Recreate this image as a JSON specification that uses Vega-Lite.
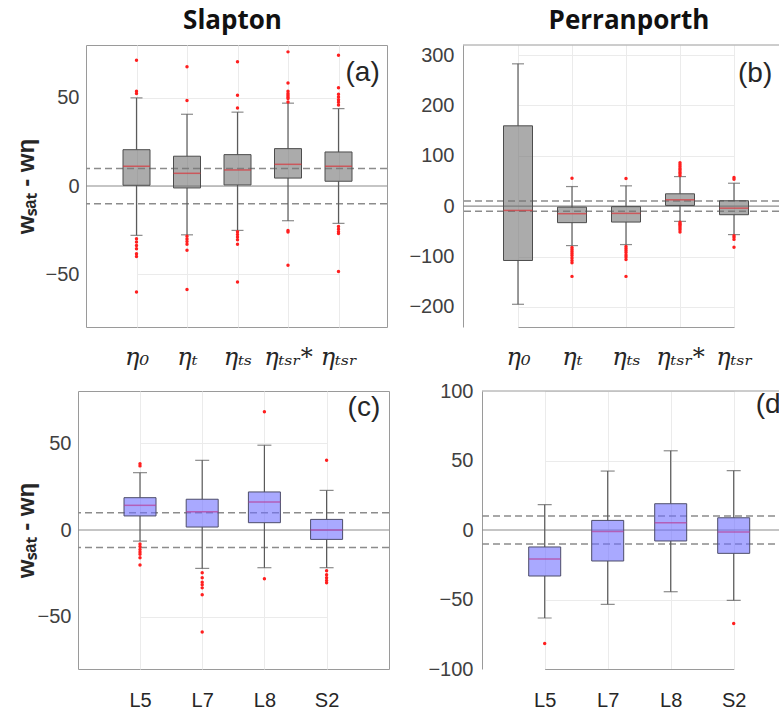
{
  "$schema": "https://vega.github.io/schema/vega-lite/v6.json",
  "padding": {"left": 12, "top": 7, "right": 0, "bottom": 0},
  "config": {
    "view": {"stroke": "#9a9a9a", "strokeWidth": 1},
    "axis": {"labelFont": "Liberation Sans", "labelFontSize": 20, "labelColor": "#404040", "gridColor": "#ebebeb", "domain": false, "ticks": false, "labelPadding": 8},
    "title": {"font": "Open Sans", "fontSize": 26, "fontWeight": "bold", "color": "#111111", "baseline": "alphabetic", "offset": 11}
  },
  "datasets": {
    "box_a": [
      {"cat": "η₀", "lo": -28, "q1": 0.4, "med": 11.2, "q3": 20.6, "hi": 50},
      {"cat": "ηₜ", "lo": -27.7, "q1": -1.1, "med": 7.2, "q3": 16.9, "hi": 40.7},
      {"cat": "ηₜₛ", "lo": -25.2, "q1": 0.6, "med": 9.1, "q3": 17.8, "hi": 41.9},
      {"cat": "ηₜₛᵣ*", "lo": -19.7, "q1": 4.5, "med": 12.3, "q3": 21.2, "hi": 47},
      {"cat": "ηₜₛᵣ", "lo": -21.2, "q1": 2.7, "med": 11.2, "q3": 19.3, "hi": 43.9}
    ],
    "out_a": [
      {"cat": "η₀", "v": 71.4}, {"cat": "η₀", "v": 53.8}, {"cat": "η₀", "v": 52.5}, {"cat": "η₀", "v": -29.9}, {"cat": "η₀", "v": -31.8}, {"cat": "η₀", "v": -33.7}, {"cat": "η₀", "v": -35.6}, {"cat": "η₀", "v": -38.4}, {"cat": "η₀", "v": -40}, {"cat": "η₀", "v": -60.2},
      {"cat": "ηₜ", "v": 67.6}, {"cat": "ηₜ", "v": 48.5}, {"cat": "ηₜ", "v": -28.5}, {"cat": "ηₜ", "v": -30}, {"cat": "ηₜ", "v": -31.5}, {"cat": "ηₜ", "v": -33}, {"cat": "ηₜ", "v": -36.5}, {"cat": "ηₜ", "v": -58.7},
      {"cat": "ηₜₛ", "v": 70.5}, {"cat": "ηₜₛ", "v": 51.5}, {"cat": "ηₜₛ", "v": 44.3}, {"cat": "ηₜₛ", "v": -26}, {"cat": "ηₜₛ", "v": -27.5}, {"cat": "ηₜₛ", "v": -29}, {"cat": "ηₜₛ", "v": -30.5}, {"cat": "ηₜₛ", "v": -33.1}, {"cat": "ηₜₛ", "v": -54.5},
      {"cat": "ηₜₛᵣ*", "v": 76.1}, {"cat": "ηₜₛᵣ*", "v": 58.5}, {"cat": "ηₜₛᵣ*", "v": 53.8}, {"cat": "ηₜₛᵣ*", "v": 52.5}, {"cat": "ηₜₛᵣ*", "v": 51.5}, {"cat": "ηₜₛᵣ*", "v": 50.5}, {"cat": "ηₜₛᵣ*", "v": 49.6}, {"cat": "ηₜₛᵣ*", "v": 47.7}, {"cat": "ηₜₛᵣ*", "v": -25.2}, {"cat": "ηₜₛᵣ*", "v": -26.1}, {"cat": "ηₜₛᵣ*", "v": -45},
      {"cat": "ηₜₛᵣ", "v": 74.2}, {"cat": "ηₜₛᵣ", "v": 55.7}, {"cat": "ηₜₛᵣ", "v": 52}, {"cat": "ηₜₛᵣ", "v": 50.5}, {"cat": "ηₜₛᵣ", "v": 49}, {"cat": "ηₜₛᵣ", "v": 47.5}, {"cat": "ηₜₛᵣ", "v": 46}, {"cat": "ηₜₛᵣ", "v": -23}, {"cat": "ηₜₛᵣ", "v": -24.5}, {"cat": "ηₜₛᵣ", "v": -26}, {"cat": "ηₜₛᵣ", "v": -27}, {"cat": "ηₜₛᵣ", "v": -48.5}
    ],
    "box_b": [
      {"cat": "η₀", "lo": -194.9, "q1": -107.9, "med": -8.5, "q3": 159.5, "hi": 282.6},
      {"cat": "ηₜ", "lo": -78.3, "q1": -32.8, "med": -15, "q3": -2, "hi": 38.9},
      {"cat": "ηₜₛ", "lo": -76.3, "q1": -31.6, "med": -14.4, "q3": -1, "hi": 40.3},
      {"cat": "ηₜₛᵣ*", "lo": -30.2, "q1": 1.4, "med": 12.6, "q3": 24.5, "hi": 58.7},
      {"cat": "ηₜₛᵣ", "lo": -56.5, "q1": -17, "med": -4, "q3": 10.7, "hi": 45.5}
    ],
    "out_b": [
      {"cat": "ηₜ", "v": 55.3}, {"cat": "ηₜ", "v": -82}, {"cat": "ηₜ", "v": -86}, {"cat": "ηₜ", "v": -90}, {"cat": "ηₜ", "v": -94}, {"cat": "ηₜ", "v": -98}, {"cat": "ηₜ", "v": -103}, {"cat": "ηₜ", "v": -108}, {"cat": "ηₜ", "v": -112.6}, {"cat": "ηₜ", "v": -139.5},
      {"cat": "ηₜₛ", "v": 55}, {"cat": "ηₜₛ", "v": -80}, {"cat": "ηₜₛ", "v": -84}, {"cat": "ηₜₛ", "v": -88}, {"cat": "ηₜₛ", "v": -92}, {"cat": "ηₜₛ", "v": -97}, {"cat": "ηₜₛ", "v": -101}, {"cat": "ηₜₛ", "v": -106}, {"cat": "ηₜₛ", "v": -139.5},
      {"cat": "ηₜₛᵣ*", "v": 61}, {"cat": "ηₜₛᵣ*", "v": 65}, {"cat": "ηₜₛᵣ*", "v": 68}, {"cat": "ηₜₛᵣ*", "v": 72}, {"cat": "ηₜₛᵣ*", "v": 75}, {"cat": "ηₜₛᵣ*", "v": 78.5}, {"cat": "ηₜₛᵣ*", "v": 82}, {"cat": "ηₜₛᵣ*", "v": 86.4}, {"cat": "ηₜₛᵣ*", "v": -32}, {"cat": "ηₜₛᵣ*", "v": -35}, {"cat": "ηₜₛᵣ*", "v": -37}, {"cat": "ηₜₛᵣ*", "v": -40}, {"cat": "ηₜₛᵣ*", "v": -43.5}, {"cat": "ηₜₛᵣ*", "v": -47}, {"cat": "ηₜₛᵣ*", "v": -51.4},
      {"cat": "ηₜₛᵣ", "v": 56.7}, {"cat": "ηₜₛᵣ", "v": 53.4}, {"cat": "ηₜₛᵣ", "v": -59}, {"cat": "ηₜₛᵣ", "v": -62}, {"cat": "ηₜₛᵣ", "v": -66}, {"cat": "ηₜₛᵣ", "v": -81.6}
    ],
    "box_c": [
      {"cat": "L5", "lo": -6.4, "q1": 8.1, "med": 14.2, "q3": 18.6, "hi": 33},
      {"cat": "L7", "lo": -22.1, "q1": 1.7, "med": 10.5, "q3": 17.7, "hi": 40.1},
      {"cat": "L8", "lo": -21.7, "q1": 4.2, "med": 16.1, "q3": 21.9, "hi": 48.8},
      {"cat": "S2", "lo": -21.7, "q1": -5.4, "med": 0, "q3": 6.1, "hi": 22.8}
    ],
    "out_c": [
      {"cat": "L5", "v": 38.2}, {"cat": "L5", "v": 36.9}, {"cat": "L5", "v": -8}, {"cat": "L5", "v": -9.5}, {"cat": "L5", "v": -11.2}, {"cat": "L5", "v": -12.6}, {"cat": "L5", "v": -14}, {"cat": "L5", "v": -16}, {"cat": "L5", "v": -20.2},
      {"cat": "L7", "v": -24.6}, {"cat": "L7", "v": -27.5}, {"cat": "L7", "v": -30}, {"cat": "L7", "v": -31.5}, {"cat": "L7", "v": -33.3}, {"cat": "L7", "v": -37.3}, {"cat": "L7", "v": -58.7},
      {"cat": "L8", "v": 68}, {"cat": "L8", "v": -28.1},
      {"cat": "S2", "v": 40.1}, {"cat": "S2", "v": -23.5}, {"cat": "S2", "v": -25.8}, {"cat": "S2", "v": -27.5}, {"cat": "S2", "v": -29}, {"cat": "S2", "v": -30.4}
    ],
    "box_d": [
      {"cat": "L5", "lo": -63.3, "q1": -33.1, "med": -20.9, "q3": -12.2, "hi": 18.2},
      {"cat": "L7", "lo": -53.5, "q1": -22.3, "med": -1, "q3": 6.9, "hi": 42.4},
      {"cat": "L8", "lo": -44.4, "q1": -7.9, "med": 5.3, "q3": 18.9, "hi": 57},
      {"cat": "S2", "lo": -50.6, "q1": -16.8, "med": -1.4, "q3": 8.8, "hi": 42.7}
    ],
    "out_d": [
      {"cat": "L5", "v": -81.6}, {"cat": "S2", "v": -67.2}
    ]
  },
  "spacing": 11,
  "vconcat": [
    {
      "spacing": 19,
      "hconcat": [
        {
          "spacing": 0,
          "hconcat": [
            {"width": 1, "height": 1, "view": {"stroke": null}, "data": {"values": []}, "mark": "point"},
            {
              "width": 301, "height": 282,
              "title": {"text": "Slapton", "dx": -4},
              "layer": [
                {"data": {"values": [{"v": 10}, {"v": -10}]}, "mark": {"type": "rule", "color": "#8c8c8c", "strokeWidth": 1.5, "strokeDash": [7, 4]},
                 "encoding": {"y": {"field": "v", "type": "quantitative", "scale": {"domain": [-80, 80], "nice": false, "zero": false},
                   "axis": {"values": [-50, 0, 50], "grid": true, "title": "wₛₐₜ - wη", "titleFont": "Liberation Sans", "titleFontSize": 24, "titleFontWeight": "bold", "titleColor": "#262626", "titleX": -48, "labelPadding": 7}}}},
                {"data": {"values": [{"v": 0}]}, "mark": {"type": "rule", "color": "#8c8c8c", "strokeWidth": 1.2}, "encoding": {"y": {"field": "v", "type": "quantitative"}}},
                {"data": {"name": "box_a"},
                 "encoding": {"x": {"field": "cat", "type": "nominal", "title": null, "scale": {"type": "point", "domain": ["η₀", "ηₜ", "ηₜₛ", "ηₜₛᵣ*", "ηₜₛᵣ"], "range": [50.5, 252.5], "padding": 0},
                   "axis": {"labelAngle": 0, "labelFont": "DejaVu Serif", "labelFontStyle": "italic", "labelFontSize": 24, "labelColor": "#262626", "labelPadding": 18, "grid": true}}},
                 "layer": [
                   {"mark": {"type": "rule", "color": "#5a5a5a", "strokeWidth": 1.2}, "encoding": {"y": {"field": "lo", "type": "quantitative"}, "y2": {"field": "q1"}}},
                   {"mark": {"type": "rule", "color": "#5a5a5a", "strokeWidth": 1.2}, "encoding": {"y": {"field": "q3", "type": "quantitative"}, "y2": {"field": "hi"}}},
                   {"mark": {"type": "tick", "color": "#5a5a5a", "size": 12, "thickness": 1.2}, "encoding": {"y": {"field": "lo", "type": "quantitative"}}},
                   {"mark": {"type": "tick", "color": "#5a5a5a", "size": 12, "thickness": 1.2}, "encoding": {"y": {"field": "hi", "type": "quantitative"}}},
                   {"mark": {"type": "bar", "size": 27, "fill": "#737373", "fillOpacity": 0.6, "stroke": "#4d4d4d", "strokeWidth": 1}, "encoding": {"y": {"field": "q1", "type": "quantitative"}, "y2": {"field": "q3"}}},
                   {"mark": {"type": "tick", "color": "#d9343a", "size": 27, "thickness": 1.5}, "encoding": {"y": {"field": "med", "type": "quantitative"}}}
                 ]},
                {"data": {"name": "out_a"}, "mark": {"type": "circle", "size": 12, "color": "#ff1f1f", "opacity": 1},
                 "encoding": {"x": {"field": "cat", "type": "nominal"}, "y": {"field": "v", "type": "quantitative"}}},
                {"data": {"values": [{"t": "(a)"}]}, "mark": {"type": "text", "font": "Liberation Sans", "fontSize": 28, "color": "#262626", "align": "left", "baseline": "middle", "dx": 7},
                 "encoding": {"text": {"field": "t"}, "x": {"datum": "ηₜₛᵣ"}, "y": {"datum": 64}}}
              ]
            }
          ]
        },
        {
          "width": 316, "height": 282,
          "title": {"text": "Perranporth", "dx": 8},
          "view": {"stroke": null},
          "layer": [
            {"data": {"values": [{"v": 10}, {"v": -10}]}, "mark": {"type": "rule", "color": "#8c8c8c", "strokeWidth": 1.5, "strokeDash": [7, 4]},
             "encoding": {"y": {"field": "v", "type": "quantitative", "scale": {"domain": [-240, 320], "nice": false, "zero": false},
               "axis": {"values": [-200, -100, 0, 100, 200, 300], "grid": true, "title": null, "labelPadding": 9, "domain": true, "domainColor": "#9a9a9a"}}}},
            {"data": {"values": [{"v": 0}]}, "mark": {"type": "rule", "color": "#8c8c8c", "strokeWidth": 1.2}, "encoding": {"y": {"field": "v", "type": "quantitative"}}},
            {"data": {"values": [{"v": 320}]}, "mark": {"type": "rule", "color": "#9a9a9a", "strokeWidth": 1}, "encoding": {"y": {"field": "v", "type": "quantitative"}}},
            {"data": {"name": "box_b"},
             "encoding": {"x": {"field": "cat", "type": "nominal", "title": null, "scale": {"type": "point", "domain": ["η₀", "ηₜ", "ηₜₛ", "ηₜₛᵣ*", "ηₜₛᵣ"], "range": [55, 271], "padding": 0},
               "axis": {"labelAngle": 0, "labelFont": "DejaVu Serif", "labelFontStyle": "italic", "labelFontSize": 24, "labelColor": "#262626", "labelPadding": 18, "grid": true, "domain": true, "domainColor": "#9a9a9a"}}},
             "layer": [
               {"mark": {"type": "rule", "color": "#5a5a5a", "strokeWidth": 1.2}, "encoding": {"y": {"field": "lo", "type": "quantitative"}, "y2": {"field": "q1"}}},
               {"mark": {"type": "rule", "color": "#5a5a5a", "strokeWidth": 1.2}, "encoding": {"y": {"field": "q3", "type": "quantitative"}, "y2": {"field": "hi"}}},
               {"mark": {"type": "tick", "color": "#5a5a5a", "size": 12, "thickness": 1.2}, "encoding": {"y": {"field": "lo", "type": "quantitative"}}},
               {"mark": {"type": "tick", "color": "#5a5a5a", "size": 12, "thickness": 1.2}, "encoding": {"y": {"field": "hi", "type": "quantitative"}}},
               {"mark": {"type": "bar", "size": 29, "fill": "#737373", "fillOpacity": 0.6, "stroke": "#4d4d4d", "strokeWidth": 1}, "encoding": {"y": {"field": "q1", "type": "quantitative"}, "y2": {"field": "q3"}}},
               {"mark": {"type": "tick", "color": "#d9343a", "size": 29, "thickness": 1.5}, "encoding": {"y": {"field": "med", "type": "quantitative"}}}
             ]},
            {"data": {"name": "out_b"}, "mark": {"type": "circle", "size": 12, "color": "#ff1f1f", "opacity": 1},
             "encoding": {"x": {"field": "cat", "type": "nominal"}, "y": {"field": "v", "type": "quantitative"}}},
            {"data": {"values": [{"t": "(b)"}]}, "mark": {"type": "text", "font": "Liberation Sans", "fontSize": 28, "color": "#262626", "align": "left", "baseline": "middle", "dx": 4, "clip": true},
             "encoding": {"text": {"field": "t"}, "x": {"datum": "ηₜₛᵣ"}, "y": {"datum": 262}}}
          ]
        }
      ]
    },
    {
      "spacing": 36,
      "hconcat": [
        {
          "spacing": 0,
          "hconcat": [
            {"width": 1, "height": 1, "view": {"stroke": null}, "data": {"values": []}, "mark": "point"},
            {
              "width": 311, "height": 278,
              "layer": [
                {"data": {"values": [{"v": 10}, {"v": -10}]}, "mark": {"type": "rule", "color": "#8c8c8c", "strokeWidth": 1.5, "strokeDash": [7, 4]},
                 "encoding": {"y": {"field": "v", "type": "quantitative", "scale": {"domain": [-80, 80], "nice": false, "zero": false},
                   "axis": {"values": [-50, 0, 50], "grid": true, "title": "wₛₐₜ - wη", "titleFont": "Liberation Sans", "titleFontSize": 24, "titleFontWeight": "bold", "titleColor": "#262626", "titleX": -40, "labelPadding": 7}}}},
                {"data": {"values": [{"v": 0}]}, "mark": {"type": "rule", "color": "#8c8c8c", "strokeWidth": 1.2}, "encoding": {"y": {"field": "v", "type": "quantitative"}}},
                {"data": {"name": "box_c"},
                 "encoding": {"x": {"field": "cat", "type": "nominal", "title": null, "scale": {"type": "point", "domain": ["L5", "L7", "L8", "S2"], "range": [62, 248.6], "padding": 0},
                   "axis": {"labelAngle": 0, "labelColor": "#262626", "labelPadding": 21, "grid": true}}},
                 "layer": [
                   {"mark": {"type": "rule", "color": "#5a5a5a", "strokeWidth": 1.2}, "encoding": {"y": {"field": "lo", "type": "quantitative"}, "y2": {"field": "q1"}}},
                   {"mark": {"type": "rule", "color": "#5a5a5a", "strokeWidth": 1.2}, "encoding": {"y": {"field": "q3", "type": "quantitative"}, "y2": {"field": "hi"}}},
                   {"mark": {"type": "tick", "color": "#5a5a5a", "size": 14, "thickness": 1.2}, "encoding": {"y": {"field": "lo", "type": "quantitative"}}},
                   {"mark": {"type": "tick", "color": "#5a5a5a", "size": 14, "thickness": 1.2}, "encoding": {"y": {"field": "hi", "type": "quantitative"}}},
                   {"mark": {"type": "bar", "size": 32, "fill": "#7070ff", "fillOpacity": 0.6, "stroke": "#4d4d6a", "strokeWidth": 1}, "encoding": {"y": {"field": "q1", "type": "quantitative"}, "y2": {"field": "q3"}}},
                   {"mark": {"type": "tick", "color": "#b8409a", "size": 32, "thickness": 1.5}, "encoding": {"y": {"field": "med", "type": "quantitative"}}}
                 ]},
                {"data": {"name": "out_c"}, "mark": {"type": "circle", "size": 12, "color": "#ff1f1f", "opacity": 1},
                 "encoding": {"x": {"field": "cat", "type": "nominal"}, "y": {"field": "v", "type": "quantitative"}}},
                {"data": {"values": [{"t": "(c)"}]}, "mark": {"type": "text", "font": "Liberation Sans", "fontSize": 28, "color": "#262626", "align": "left", "baseline": "middle", "dx": 21},
                 "encoding": {"text": {"field": "t"}, "x": {"datum": "S2"}, "y": {"datum": 70}}}
              ]
            }
          ]
        },
        {
          "width": 304, "height": 278,
          "view": {"stroke": null},
          "layer": [
            {"data": {"values": [{"v": 10}, {"v": -10}]}, "mark": {"type": "rule", "color": "#8c8c8c", "strokeWidth": 1.5, "strokeDash": [7, 4]},
             "encoding": {"y": {"field": "v", "type": "quantitative", "scale": {"domain": [-100, 100], "nice": false, "zero": false},
               "axis": {"values": [-100, -50, 0, 50, 100], "grid": true, "title": null, "labelPadding": 9, "domain": true, "domainColor": "#9a9a9a"}}}},
            {"data": {"values": [{"v": 0}]}, "mark": {"type": "rule", "color": "#8c8c8c", "strokeWidth": 1.2}, "encoding": {"y": {"field": "v", "type": "quantitative"}}},
            {"data": {"values": [{"v": 100}]}, "mark": {"type": "rule", "color": "#9a9a9a", "strokeWidth": 1}, "encoding": {"y": {"field": "v", "type": "quantitative"}}},
            {"data": {"name": "box_d"},
             "encoding": {"x": {"field": "cat", "type": "nominal", "title": null, "scale": {"type": "point", "domain": ["L5", "L7", "L8", "S2"], "range": [62.7, 251.7], "padding": 0},
               "axis": {"labelAngle": 0, "labelColor": "#262626", "labelPadding": 21, "grid": true, "domain": true, "domainColor": "#9a9a9a"}}},
             "layer": [
               {"mark": {"type": "rule", "color": "#5a5a5a", "strokeWidth": 1.2}, "encoding": {"y": {"field": "lo", "type": "quantitative"}, "y2": {"field": "q1"}}},
               {"mark": {"type": "rule", "color": "#5a5a5a", "strokeWidth": 1.2}, "encoding": {"y": {"field": "q3", "type": "quantitative"}, "y2": {"field": "hi"}}},
               {"mark": {"type": "tick", "color": "#5a5a5a", "size": 14, "thickness": 1.2}, "encoding": {"y": {"field": "lo", "type": "quantitative"}}},
               {"mark": {"type": "tick", "color": "#5a5a5a", "size": 14, "thickness": 1.2}, "encoding": {"y": {"field": "hi", "type": "quantitative"}}},
               {"mark": {"type": "bar", "size": 32, "fill": "#7070ff", "fillOpacity": 0.6, "stroke": "#4d4d6a", "strokeWidth": 1}, "encoding": {"y": {"field": "q1", "type": "quantitative"}, "y2": {"field": "q3"}}},
               {"mark": {"type": "tick", "color": "#b8409a", "size": 32, "thickness": 1.5}, "encoding": {"y": {"field": "med", "type": "quantitative"}}}
             ]},
            {"data": {"name": "out_d"}, "mark": {"type": "circle", "size": 12, "color": "#ff1f1f", "opacity": 1},
             "encoding": {"x": {"field": "cat", "type": "nominal"}, "y": {"field": "v", "type": "quantitative"}}},
            {"data": {"values": [{"t": "(d)"}]}, "mark": {"type": "text", "font": "Liberation Sans", "fontSize": 28, "color": "#262626", "align": "left", "baseline": "middle", "dx": 22, "clip": true},
             "encoding": {"text": {"field": "t"}, "x": {"datum": "S2"}, "y": {"datum": 90}}}
          ]
        }
      ]
    }
  ]
}
